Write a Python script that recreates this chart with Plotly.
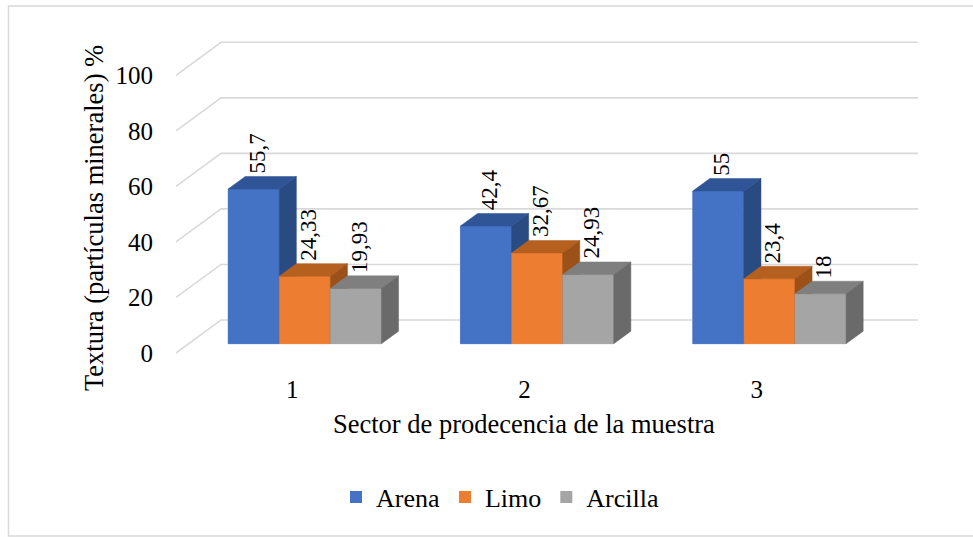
import plotly.graph_objects as go

# ---------------- data ----------------
categories = ["1", "2", "3"]
series_names = ["Arena", "Limo", "Arcilla"]
arena = [55.7, 42.4, 55.0]
limo = [24.33, 32.67, 23.4]
arcilla = [19.93, 24.93, 18.0]
y_ticks = [0, 20, 40, 60, 80, 100]
x_title = "Sector de prodecencia de la muestra"
y_title = "Textura (partículas minerales) %"

series_values = [arena, limo, arcilla]

# ---------------- style ----------------
front_color = ["#4472C4", "#ED7D31", "#A5A5A5"]
top_color = ["#2F5597", "#B5601F", "#7F7F7F"]
side_color = ["#2A4A82", "#9C5119", "#6A6A6A"]
grid_color = "#D9D9D9"
FONT = "Liberation Serif, Times New Roman, serif"

DX = 0.194   # depth of the floor, in category units
DY = 11.9    # depth of the floor, in value units
Z0, Z1 = 0.28, 0.66   # bar front/back depth fractions
GAP = 0.17
BW = 0.22

W, H = 973, 537
ML, MR, MT, MB = 174, 53, 41, 183
PW, PH = W - ML - MR, H - MT - MB

# axis ranges so that front-left floor corner and back-top wall corner land where wanted
XU = (918 - 176) / (3 + DX)
x0 = -(176 - ML) / XU
x1 = (3 + DX) + ((W - MR) - 918) / XU
YU = (353 - 42.3) / (100 + DY)
y0 = -((H - MB) - 353) / YU
y1 = (100 + DY) + (42.3 - MT) / YU


def pxx(px):
    return (px - ML) / PW


def pxy(py):
    return ((H - MB) - py) / PH


def fmt(v):
    return f"{v:g}".replace(".", ",")


fig = go.Figure()

# gridlines: diagonal on the left side wall + back wall
gx, gy = [], []
for v in y_ticks:
    gx += [0, DX, len(categories) + DX, None]
    gy += [v, v + DY, v + DY, None]
fig.add_trace(go.Scatter(x=gx, y=gy, mode="lines", line=dict(color=grid_color, width=1.6),
                         hoverinfo="skip", showlegend=False))

# legend bars (front faces, also drawn again as polygons in painter order)
b0 = Z0 * DY
b1 = Z1 * DY
ddx = (Z1 - Z0) * DX
for j, name in enumerate(series_names):
    xs = [i + GAP + BW * j + BW / 2 + Z0 * DX for i in range(len(categories))]
    fig.add_trace(go.Bar(x=xs, y=series_values[j], base=b0, width=BW, name=name,
                         marker=dict(color=front_color[j], line=dict(width=0)),
                         hoverinfo="skip", showlegend=True))

annotations = []
for i in range(len(categories)):
    for j in range(len(series_names)):
        v = series_values[j][i]
        xl = i + GAP + BW * j + Z0 * DX
        xr = xl + BW
        # front face
        fig.add_trace(go.Scatter(x=[xl, xr, xr, xl, xl], y=[b0, b0, v + b0, v + b0, b0],
                                 fill="toself", fillcolor=front_color[j], mode="lines",
                                 line=dict(color=front_color[j], width=0.5),
                                 hoverinfo="skip", showlegend=False))
        # top face
        fig.add_trace(go.Scatter(x=[xl, xr, xr + ddx, xl + ddx, xl],
                                 y=[v + b0, v + b0, v + b1, v + b1, v + b0],
                                 fill="toself", fillcolor=top_color[j], mode="lines",
                                 line=dict(color=top_color[j], width=0.5),
                                 hoverinfo="skip", showlegend=False))
        # side face
        fig.add_trace(go.Scatter(x=[xr, xr, xr + ddx, xr + ddx, xr],
                                 y=[b0, v + b0, v + b1, b1, b0],
                                 fill="toself", fillcolor=side_color[j], mode="lines",
                                 line=dict(color=side_color[j], width=0.5),
                                 hoverinfo="skip", showlegend=False))
        annotations.append(dict(x=xl + BW / 2 + 0.015, y=v + b1 + 0.4, xref="x", yref="y",
                                text=fmt(v), textangle=-90, showarrow=False,
                                xanchor="center", yanchor="bottom",
                                font=dict(family=FONT, size=23, color="#000000")))

# axis titles
annotations.append(dict(x=len(categories) / 2, y=pxy(424), xref="x", yref="paper",
                        text=x_title, showarrow=False, xanchor="center", yanchor="middle",
                        font=dict(family=FONT, size=26.5, color="#000000")))
annotations.append(dict(x=pxx(94), y=pxy(218), xref="paper", yref="paper",
                        text=y_title, textangle=-90, showarrow=False,
                        xanchor="center", yanchor="middle",
                        font=dict(family=FONT, size=26.5, color="#000000")))

shapes = [dict(type="rect", xref="paper", yref="paper",
               x0=pxx(8.5), x1=pxx(990), y0=pxy(536), y1=pxy(6),
               line=dict(color="#D9D9D9", width=1.5), fillcolor="rgba(0,0,0,0)", layer="below")]

fig.update_layout(
    width=W, height=H, autosize=False,
    margin=dict(l=ML, r=MR, t=MT, b=MB, pad=0),
    paper_bgcolor="white", plot_bgcolor="white",
    barmode="overlay",
    font=dict(family=FONT, color="#000000"),
    xaxis=dict(range=[x0, x1], tickmode="array",
               tickvals=[i + 0.5 for i in range(len(categories))], ticktext=categories,
               showgrid=False, zeroline=False, showline=False, ticks="",
               ticklabelstandoff=18, tickfont=dict(family=FONT, size=25, color="#000000")),
    yaxis=dict(range=[y0, y1], tickmode="array", tickvals=y_ticks,
               ticktext=[str(t) for t in y_ticks],
               showgrid=False, zeroline=False, showline=False, ticks="",
               ticklabelstandoff=20, tickfont=dict(family=FONT, size=25, color="#000000")),
    legend=dict(orientation="h", x=pxx(500), xanchor="center", y=pxy(497), yanchor="middle",
                font=dict(family=FONT, size=26, color="#000000"), bgcolor="rgba(0,0,0,0)",
                traceorder="normal"),
    annotations=annotations,
    shapes=shapes,
    showlegend=True,
)

fig.write_html("out.html", config={"displayModeBar": False})
